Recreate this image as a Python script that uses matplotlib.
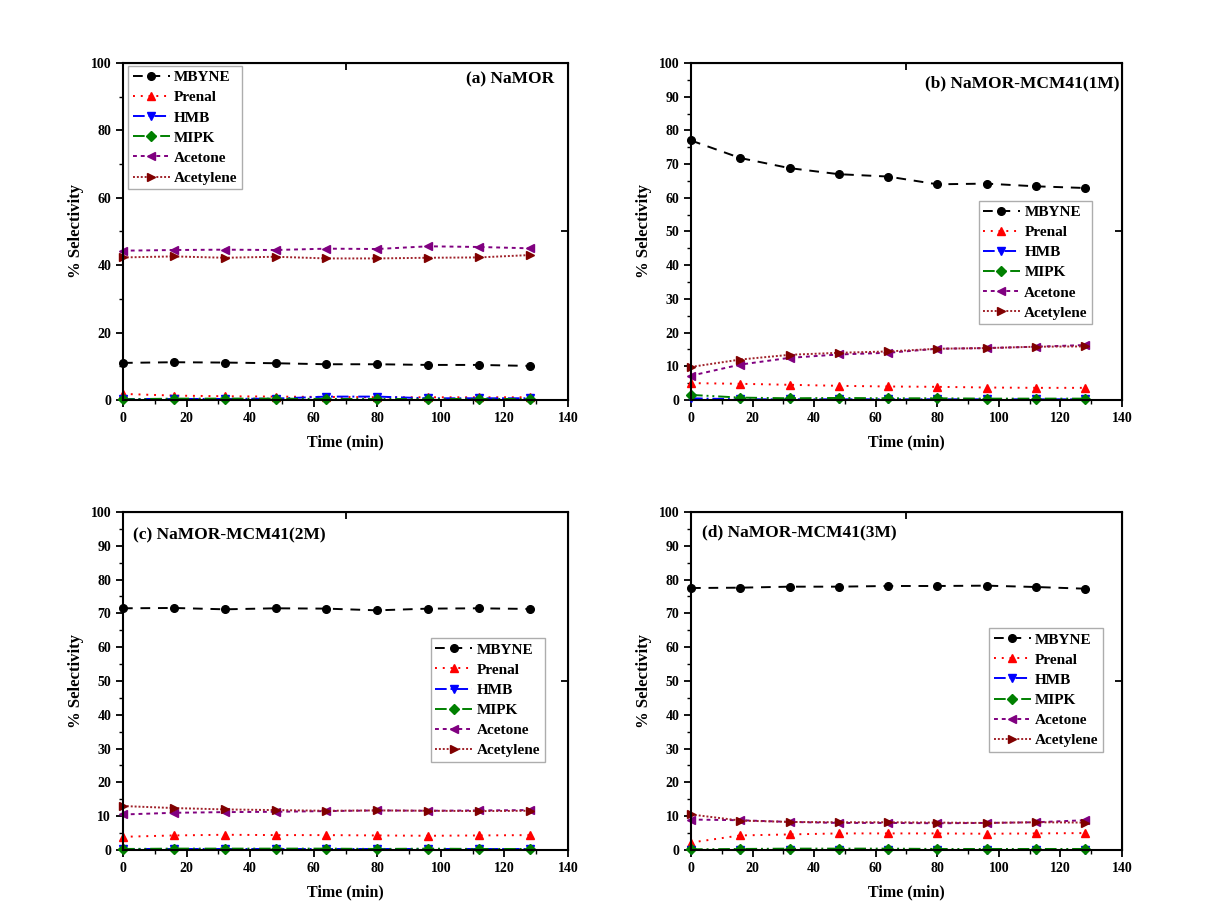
import matplotlib
matplotlib.use("Agg")
import matplotlib.pyplot as plt
from matplotlib.ticker import MultipleLocator

plt.rcParams['font.family'] = ['Liberation Serif', 'DejaVu Serif']
plt.rcParams['font.weight'] = 'bold'

time_min = [0, 16, 32, 48, 64, 80, 96, 112, 128]
products = ["MBYNE", "Prenal", "HMB", "MIPK", "Acetone", "Acetylene"]

# selectivity (%) per catalyst
sel_namor = {
    "MBYNE":     [11.0, 11.2, 11.1, 10.9, 10.6, 10.6, 10.4, 10.4, 10.1],
    "Prenal":    [1.8, 1.3, 1.1, 1.0, 0.9, 0.8, 0.8, 0.8, 0.8],
    "HMB":       [0.3, 0.3, 0.3, 0.4, 1.0, 1.0, 0.5, 0.5, 0.5],
    "MIPK":      [0.2, 0.4, 0.4, 0.4, 0.3, 0.3, 0.3, 0.3, 0.3],
    "Acetone":   [44.3, 44.5, 44.6, 44.5, 44.9, 44.8, 45.6, 45.4, 45.0],
    "Acetylene": [42.3, 42.6, 42.2, 42.5, 42.0, 42.0, 42.2, 42.3, 43.0],
}
sel_1m = {
    "MBYNE":     [77.0, 71.8, 68.8, 67.0, 66.3, 64.0, 64.2, 63.4, 62.9],
    "Prenal":    [5.0, 4.8, 4.5, 4.2, 4.0, 3.9, 3.7, 3.6, 3.6],
    "HMB":       [0.5, 0.2, 0.2, 0.2, 0.2, 0.2, 0.2, 0.2, 0.2],
    "MIPK":      [1.5, 0.7, 0.5, 0.6, 0.5, 0.5, 0.4, 0.4, 0.4],
    "Acetone":   [7.2, 10.5, 12.5, 13.5, 14.0, 15.2, 15.4, 15.8, 16.3],
    "Acetylene": [9.8, 12.0, 13.4, 14.0, 14.4, 15.2, 15.4, 15.8, 15.9],
}
sel_2m = {
    "MBYNE":     [71.5, 71.6, 71.2, 71.5, 71.4, 70.9, 71.4, 71.5, 71.3],
    "Prenal":    [3.9, 4.3, 4.5, 4.4, 4.4, 4.3, 4.2, 4.3, 4.4],
    "HMB":       [0.2, 0.2, 0.2, 0.2, 0.2, 0.2, 0.2, 0.2, 0.2],
    "MIPK":      [0.3, 0.4, 0.4, 0.4, 0.4, 0.3, 0.4, 0.3, 0.3],
    "Acetone":   [10.5, 11.0, 11.2, 11.3, 11.5, 11.7, 11.6, 11.7, 11.8],
    "Acetylene": [13.0, 12.4, 12.0, 11.8, 11.6, 11.7, 11.6, 11.5, 11.6],
}
sel_3m = {
    "MBYNE":     [77.5, 77.6, 77.9, 77.9, 78.1, 78.1, 78.2, 77.8, 77.3],
    "Prenal":    [2.2, 4.3, 4.6, 4.9, 4.9, 4.9, 4.8, 4.9, 5.0],
    "HMB":       [0.1, 0.1, 0.1, 0.1, 0.1, 0.1, 0.1, 0.1, 0.1],
    "MIPK":      [0.2, 0.3, 0.4, 0.4, 0.4, 0.3, 0.3, 0.3, 0.3],
    "Acetone":   [9.0, 8.8, 8.3, 8.0, 8.0, 7.9, 8.0, 8.2, 8.8],
    "Acetylene": [10.5, 8.7, 8.3, 8.2, 8.2, 8.1, 8.0, 8.2, 8.1],
}

styles = {
    "MBYNE":     dict(color="black", ls=(0, (5, 4)), marker="o", mfc="black"),
    "Prenal":    dict(color="red", ls=(0, (1, 3)), marker="^", mfc="red"),
    "HMB":       dict(color="blue", ls=(0, (6, 2, 1, 2)), marker="v", mfc="blue"),
    "MIPK":      dict(color="green", ls=(0, (6, 2, 1, 2, 1, 2)), marker="D", mfc="green"),
    "Acetone":   dict(color="#800080", ls=(0, (2, 2)), marker="<", mfc="#800080"),
    "Acetylene": dict(color="#a0222a", ls=(0, (1, 1)), marker=">", mfc="#800000"),
}

fig = plt.figure(figsize=(12.14, 9.18), dpi=100)

panels = [
    ([0.1013, 0.5643, 0.3666, 0.3671], sel_namor, "(a) NaMOR", 20, 10,
     dict(loc="upper left", bbox_to_anchor=(0.005, 1.0)), (0.97, 0.95, "right")),
    ([0.5692, 0.5643, 0.3550, 0.3671], sel_1m, "(b) NaMOR-MCM41(1M)", 10, 5,
     dict(loc="upper left", bbox_to_anchor=(0.66, 0.60)), (0.995, 0.94, "right")),
    ([0.1013, 0.0741, 0.3666, 0.3682], sel_2m, "(c) NaMOR-MCM41(2M)", 10, 5,
     dict(loc="upper left", bbox_to_anchor=(0.685, 0.635)), (0.022, 0.93, "left")),
    ([0.5692, 0.0741, 0.3550, 0.3682], sel_3m, "(d) NaMOR-MCM41(3M)", 10, 5,
     dict(loc="upper left", bbox_to_anchor=(0.685, 0.665)), (0.026, 0.94, "left")),
]

for rect, data, title, ymaj, ymin, leg_kw, (tx, ty, ha) in panels:
    ax = fig.add_axes(rect)
    for name in products:
        st = styles[name]
        ax.plot(time_min, data[name], color=st["color"], linestyle=st["ls"],
                linewidth=1.4, marker=st["marker"], markersize=5.5,
                markerfacecolor=st["mfc"], markeredgecolor=st["mfc"],
                label=name, clip_on=False)
    ax.set_xlim(0, 140)
    ax.set_ylim(0, 100)
    ax.xaxis.set_major_locator(MultipleLocator(20))
    ax.xaxis.set_minor_locator(MultipleLocator(10))
    ax.yaxis.set_major_locator(MultipleLocator(ymaj))
    ax.yaxis.set_minor_locator(MultipleLocator(ymin))
    ax.tick_params(which="major", direction="out", length=5, width=1.3, labelsize=10)
    ax.tick_params(which="minor", direction="out", length=3, width=1.0)
    for sp in ax.spines.values():
        sp.set_linewidth(1.5)
    # single marks on the top and right frame
    top = ax.secondary_xaxis("top")
    top.set_xticks([70])
    top.set_xticklabels([])
    top.tick_params(direction="in", length=5, width=1.3)
    right = ax.secondary_yaxis("right")
    right.set_yticks([50])
    right.set_yticklabels([])
    right.tick_params(direction="in", length=5, width=1.3)

    ax.set_xlabel("Time (min)", fontsize=11.5, fontweight="bold", labelpad=7)
    ax.set_ylabel("% Selectivity", fontsize=12, fontweight="bold", labelpad=5)
    ax.text(tx, ty, title, transform=ax.transAxes, ha=ha, va="center",
            fontsize=12.5, fontweight="bold")
    leg = ax.legend(fontsize=11, frameon=True, fancybox=False, edgecolor="#999999",
                    handlelength=2.4, handletextpad=0.3, borderpad=0.3,
                    labelspacing=0.42, borderaxespad=0.2, markerscale=1.0, **leg_kw)
    leg.get_frame().set_linewidth(1.0)
    for t in leg.get_texts():
        t.set_fontweight("bold")

fig.savefig("out.png", dpi=100, facecolor="white")
